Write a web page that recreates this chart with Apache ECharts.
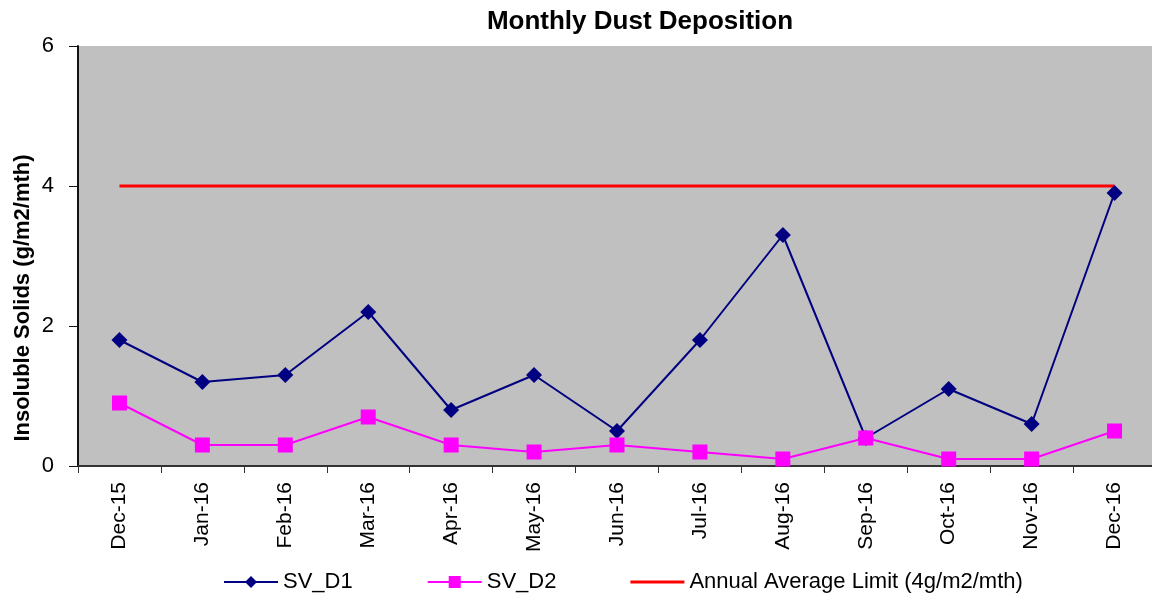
<!DOCTYPE html>
<html>
<head>
<meta charset="utf-8">
<script src="https://cdn.jsdelivr.net/npm/echarts@6/dist/echarts.min.js"></script>
<style>
  html, body { margin: 0; padding: 0; background: #fff; overflow: hidden; }
  #main { width: 1156px; height: 601px; }
</style>
</head>
<body>
<div id="main"></div>
<script>
// data
var months = ['Dec-15', 'Jan-16', 'Feb-16', 'Mar-16', 'Apr-16', 'May-16', 'Jun-16',
              'Jul-16', 'Aug-16', 'Sep-16', 'Oct-16', 'Nov-16', 'Dec-16'];
var svD1 = [1.8, 1.2, 1.3, 2.2, 0.8, 1.3, 0.5, 1.8, 3.3, 0.4, 1.1, 0.6, 3.9];
var svD2 = [0.9, 0.3, 0.3, 0.7, 0.3, 0.2, 0.3, 0.2, 0.1, 0.4, 0.1, 0.1, 0.5];
var limit = [4, 4, 4, 4, 4, 4, 4, 4, 4, 4, 4, 4, 4];
var yTicks = [0, 2, 4, 6];

var myChart = echarts.init(document.getElementById('main'));

var option = {
    animation: false,
    textStyle: { fontFamily: 'Liberation Sans, Arial, sans-serif' },
    title: {
        text: 'Monthly Dust Deposition',
        left: 635,
        textAlign: 'center',
        top: 4,
        textStyle: { fontSize: 26, fontWeight: 'bold', color: '#000' }
    },
    // y axis title, placed by hand (it sits lower than the plot centre)
    graphic: [{
        type: 'text',
        x: 23,
        y: 298,
        rotation: Math.PI / 2,
        style: {
            text: 'Insoluble Solids (g/m2/mth)',
            align: 'center',
            verticalAlign: 'middle',
            font: 'bold 22px Liberation Sans, Arial, sans-serif',
            fill: '#000'
        }
    }],
    legend: {
        bottom: 3,
        left: 218,
        itemWidth: 54,
        itemHeight: 15,
        itemGap: 74,
        textStyle: { fontSize: 22, color: '#000' },
        data: [
            { name: 'SV_D1' },
            { name: 'SV_D2' },
            { name: 'Annual Average Limit (4g/m2/mth)', icon: 'path://M0,0 L52,0 L52,3 L0,3 Z' }
        ]
    },
    grid: {
        left: 78, right: 0, top: 46, bottom: 135,
        show: true,
        backgroundColor: '#c0c0c0',
        borderWidth: 0
    },
    xAxis: {
        type: 'category',
        data: months,
        boundaryGap: true,
        axisLine: { lineStyle: { color: '#333', width: 2 } },
        axisTick: { show: true, length: 7, lineStyle: { color: '#333' } },
        axisLabel: { rotate: 90, fontSize: 21, color: '#000', margin: 16, interval: 0 }
    },
    yAxis: {
        type: 'value',
        min: yTicks[0],
        max: yTicks[yTicks.length - 1],
        interval: 2,
        axisLine: { show: true, lineStyle: { color: '#111', width: 2 } },
        axisTick: { show: true, length: 9, lineStyle: { color: '#111' } },
        splitLine: { show: false },
        axisLabel: { fontSize: 22, color: '#000', margin: 24 }
    },
    series: [
        {
            name: 'SV_D1',
            type: 'line',
            data: svD1,
            symbol: 'diamond',
            symbolSize: 16,
            itemStyle: { color: '#000080' },
            lineStyle: { color: '#000080', width: 2 }
        },
        {
            name: 'SV_D2',
            type: 'line',
            data: svD2,
            symbol: 'rect',
            symbolSize: 15,
            itemStyle: { color: '#ff00ff' },
            lineStyle: { color: '#ff00ff', width: 2 }
        },
        {
            name: 'Annual Average Limit (4g/m2/mth)',
            type: 'line',
            data: limit,
            symbol: 'none',
            itemStyle: { color: '#ff0000' },
            lineStyle: { color: '#ff0000', width: 3 }
        }
    ]
};

myChart.setOption(option);
</script>
</body>
</html>
